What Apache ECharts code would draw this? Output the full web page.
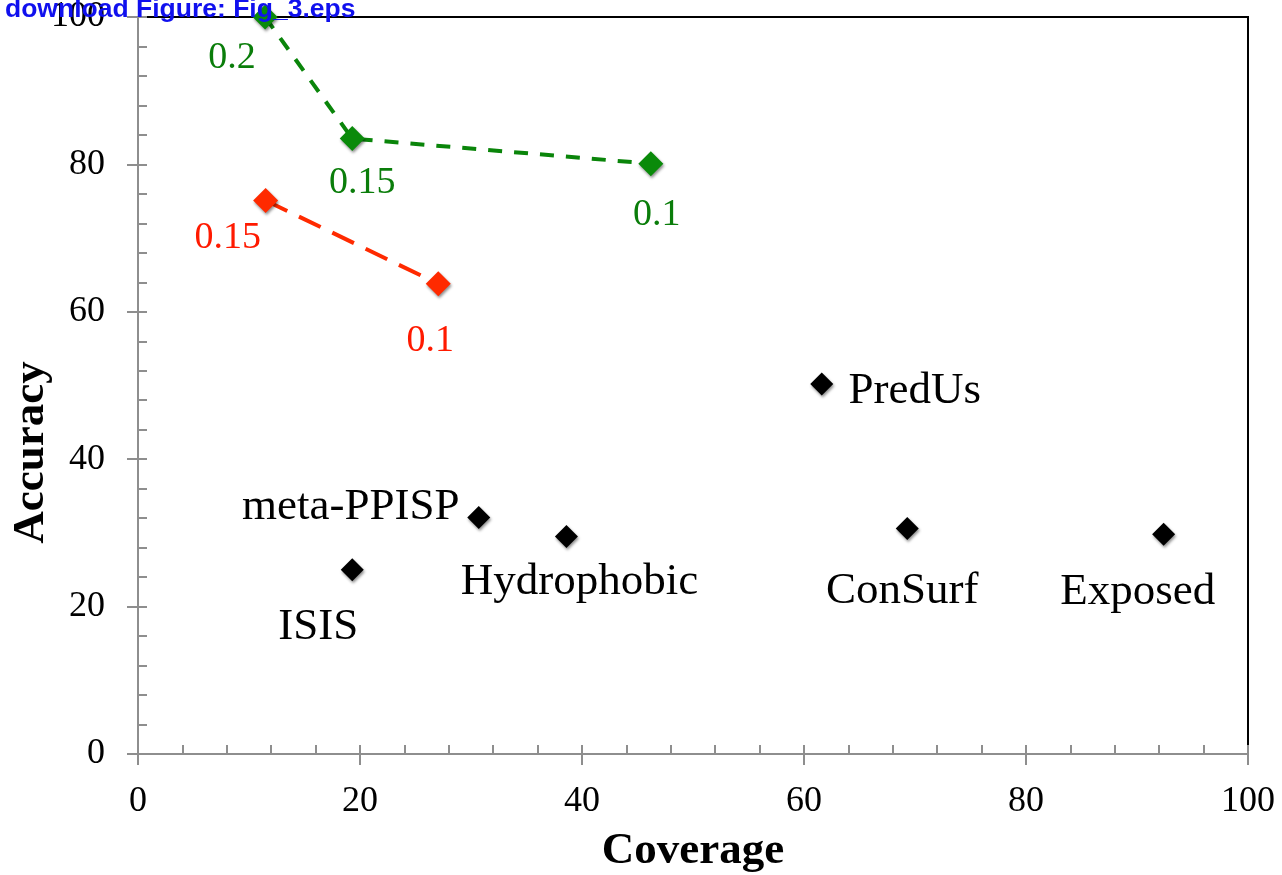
<!DOCTYPE html>
<html>
<head>
<meta charset="utf-8">
<script src="https://cdn.jsdelivr.net/npm/echarts@6/dist/echarts.min.js"></script>
<style>html,body{margin:0;padding:0;background:#fff;}#c{width:1282px;height:875px;}</style>
</head>
<body>
<div id="c"></div>
<script>
// ---- data ----
const greenCoverage = [11.45, 19.3, 46.2];
const greenAccuracy = [100, 83.5, 80.1];
const greenLabels = ['0.2', '0.15', '0.1'];

const redCoverage = [11.5, 27.05];
const redAccuracy = [75.1, 63.8];
const redLabels = ['0.15', '0.1'];

const methodNames = ['ISIS', 'meta-PPISP', 'Hydrophobic', 'PredUs', 'ConSurf', 'Exposed'];
const methodCoverage = [19.3, 30.7, 38.6, 61.6, 69.3, 92.4];
const methodAccuracy = [25.0, 32.1, 29.5, 50.2, 30.6, 29.8];

const xTicks = [0, 20, 40, 60, 80, 100];
const yTicks = [0, 20, 40, 60, 80, 100];

// ---- label placement (pixel offsets from marker centre) ----
const greenOffsets = [[-33, 41], [10, 44], [6, 51]];
const redOffsets = [[-38, 38], [-8, 57]];
const methodOffsets = {
  'ISIS': [-34, 57], 'meta-PPISP': [-128, -10], 'Hydrophobic': [13, 46],
  'PredUs': [93, 7], 'ConSurf': [-5, 63], 'Exposed': [-26, 58]
};

const serif = '"Liberation Serif", "Times New Roman", serif';
const gray = '#8e8e8e';
const shadow = { shadowBlur: 3, shadowColor: 'rgba(0,0,0,0.45)', shadowOffsetX: 1, shadowOffsetY: 2 };

function pts(xs, ys, labels, offsets, color, size) {
  return xs.map((x, i) => ({
    value: [x, ys[i]],
    name: labels[i],
    label: {
      show: true, position: 'inside', offset: offsets[i],
      formatter: labels[i], color: color, opacity: 1, textBorderWidth: 0,
      fontFamily: serif, fontSize: size,
      align: 'center', verticalAlign: 'middle'
    }
  }));
}

const chart = echarts.init(document.getElementById('c'));
const axisCommon = {
  type: 'value', min: 0, max: 100, interval: 20,
  splitLine: { show: false }
};
chart.setOption({
  animation: false,
  backgroundColor: '#fff',
  grid: { left: 138, right: 34, top: 17, bottom: 121, containLabel: false, outerBoundsMode: 'none', show: true, borderColor: '#000', borderWidth: 2, backgroundColor: 'transparent' },
  graphic: [{
    type: 'text', left: 5, top: -4, z: 100,
    style: { text: 'download Figure: Fig_3.eps', fill: '#1010ee', font: 'bold 26.5px "Liberation Sans", Arial, sans-serif' }
  }],
  xAxis: [
    Object.assign({}, axisCommon, {
      position: 'bottom',
      name: 'Coverage', nameLocation: 'middle', nameGap: 75, nameMoveOverlap: false,
      nameTextStyle: { fontFamily: serif, fontSize: 45, fontWeight: 'bold', color: '#000' },
      axisLine: { show: true, onZero: false, lineStyle: { color: gray, width: 2 } },
      axisTick: { show: true, inside: false, length: 11, lineStyle: { color: gray, width: 2 } },
      axisLabel: { margin: 30, fontFamily: serif, fontSize: 36, color: '#000', formatter: v => xTicks.includes(v) ? String(v) : '' }
    }),
    Object.assign({}, axisCommon, {
      position: 'bottom',
      axisLine: { show: false },
      axisTick: { show: true, inside: true, length: 9, lineStyle: { color: gray, width: 2 } },
      minorTick: { show: true, splitNumber: 5, length: 9, lineStyle: { color: gray, width: 2 } },
      axisLabel: { show: false }
    })
  ],
  yAxis: [
    Object.assign({}, axisCommon, {
      position: 'left',
      name: 'Accuracy', nameLocation: 'middle', nameGap: 84, nameMoveOverlap: false,
      nameTextStyle: { fontFamily: serif, fontSize: 45, fontWeight: 'bold', color: '#000', padding: [0, 134, 0, 0] },
      axisLine: { show: true, onZero: false, lineStyle: { color: gray, width: 2 } },
      axisTick: { show: true, inside: false, length: 11, lineStyle: { color: gray, width: 2 } },
      axisLabel: { margin: 33, fontFamily: serif, fontSize: 36, color: '#000', formatter: v => yTicks.includes(v) ? String(v) : '' }
    }),
    Object.assign({}, axisCommon, {
      position: 'left',
      axisLine: { show: false },
      axisTick: { show: true, inside: true, length: 9, lineStyle: { color: gray, width: 2 } },
      minorTick: { show: true, splitNumber: 5, length: 9, lineStyle: { color: gray, width: 2 } },
      axisLabel: { show: false }
    })
  ],
  series: [
    {
      type: 'line', name: 'green', xAxisIndex: 0, yAxisIndex: 0,
      data: pts(greenCoverage, greenAccuracy, greenLabels, greenOffsets, '#0a7d0a', 38),
      symbol: 'diamond', symbolSize: 25, showAllSymbol: true,
      lineStyle: { color: '#0a850a', width: 4, type: [14, 12] },
      itemStyle: Object.assign({ color: '#0a8a0a' }, shadow),
      z: 3
    },
    {
      type: 'line', name: 'red', xAxisIndex: 0, yAxisIndex: 0,
      data: pts(redCoverage, redAccuracy, redLabels, redOffsets, '#ff1a00', 38),
      symbol: 'diamond', symbolSize: 25, showAllSymbol: true,
      lineStyle: { color: '#ff2a00', width: 4, type: [24, 13] },
      itemStyle: Object.assign({ color: '#ff2a00' }, shadow),
      z: 3
    },
    {
      type: 'scatter', name: 'methods', xAxisIndex: 0, yAxisIndex: 0,
      data: pts(methodCoverage, methodAccuracy, methodNames, methodNames.map(n => methodOffsets[n]), '#000000', 45),
      symbol: 'diamond', symbolSize: 23,
      itemStyle: Object.assign({ color: '#000000', opacity: 1 }, shadow),
      z: 3
    }
  ]
});
</script>
</body>
</html>
